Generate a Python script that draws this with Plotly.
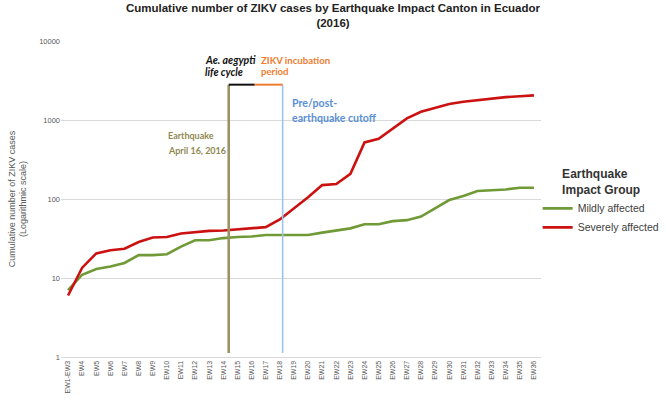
import math
import plotly.graph_objects as go

weeks = ["EW1-EW3"] + [f"EW{i}" for i in range(4, 37)]
mildly = [7, 11, 13, 14, 15.5, 19.5, 19.5, 20, 25, 30, 30, 32, 33, 33.5, 35, 35, 35, 35,
          37.5, 40, 42.5, 48, 48, 52.5, 54, 60, 76, 97, 109, 126, 129, 132, 139, 139]
severely = [6, 13.5, 20.5, 22.5, 23.5, 28.5, 32.5, 33, 36.5, 38, 39.5, 40, 41, 42.5, 44, 55,
            75, 105, 150, 155, 208, 520, 580, 790, 1050, 1270, 1430, 1590, 1700, 1790,
            1880, 1950, 2000, 2050]
series_names = ["Mildly affected", "Severely affected"]
series_colors = ["#6F9A36", "#CC1111"]

# event markers (category-index positions) and bracket height
quake_pos = 11.38
bracket_mid = 13.22
cutoff_pos = 15.2
bracket_top = 2800
line_bottom = 1.12

x = list(range(len(weeks)))
fig = go.Figure()
for name, vals, col in zip(series_names, [mildly, severely], series_colors):
    fig.add_trace(go.Scatter(x=x, y=vals, mode="lines", name=name,
                             line=dict(color=col, width=2.6)))

shapes = [
    dict(type="line", xref="x", yref="y", x0=quake_pos, x1=quake_pos,
         y0=line_bottom, y1=bracket_top, line=dict(color="#9A9464", width=2.6)),
    dict(type="line", xref="x", yref="y", x0=cutoff_pos, x1=cutoff_pos,
         y0=line_bottom, y1=bracket_top, line=dict(color="#9DC3E6", width=1.6)),
    dict(type="line", xref="x", yref="y", x0=quake_pos, x1=bracket_mid,
         y0=bracket_top, y1=bracket_top, line=dict(color="#111111", width=2)),
    dict(type="line", xref="x", yref="y", x0=bracket_mid, x1=cutoff_pos,
         y0=bracket_top, y1=bracket_top, line=dict(color="#ED7D31", width=2)),
]

afont = "Lato, Carlito, 'Open Sans', sans-serif"


def label(xi, ylog, text, size, color):
    return dict(x=xi, y=ylog, xref="x", yref="y", xanchor="left", yanchor="middle",
                text=text, showarrow=False, align="left", borderpad=0,
                font=dict(family=afont, size=size, color=color))


annotations = [
    label(9.62, 3.759, "<b><i>Ae. aegypti</i></b>", 10.5, "#111111"),
    label(9.62, 3.608, "<b><i>life cycle</i></b>", 10.5, "#111111"),
    label(13.6, 3.759, "<b>ZIKV incubation</b>", 9.6, "#ED7D31"),
    label(13.6, 3.608, "<b>period</b>", 9.6, "#ED7D31"),
    label(15.8, 3.215, "<b>Pre/post-</b>", 10.6, "#5B8FD6"),
    label(15.8, 3.025, "<b>earthquake cutoff</b>", 10.6, "#5B8FD6"),
    label(7.0, 2.81, "<b>Earthquake</b>", 9, "#8E8852"),
    label(7.0, 2.62, "<b>April 16, 2016</b>", 9, "#8E8852"),
]

fig.update_layout(
    width=666, height=403,
    margin=dict(l=61, r=125, t=41, b=46, autoexpand=False),
    paper_bgcolor="white", plot_bgcolor="white",
    title=dict(text="<b>Cumulative number of ZIKV cases by Earthquake Impact Canton in Ecuador<br>(2016)</b>",
               x=0.5, xanchor="center", yref="container", y=0.97, yanchor="middle",
               font=dict(family="Liberation Sans, Arial, sans-serif", size=11.5, color="#222222")),
    font=dict(family="Liberation Sans, Arial, sans-serif", color="#595959"),
    xaxis=dict(tickmode="array", tickvals=x, ticktext=weeks, tickangle=-90,
               range=[-0.5, len(weeks) - 0.5], showgrid=False, zeroline=False,
               showline=True, linecolor="#D9D9D9", linewidth=1, ticks="",
               automargin=False, tickfont=dict(size=7, color="#595959")),
    yaxis=dict(type="log", range=[0, 4], tickvals=[1, 10, 100, 1000, 10000],
               ticktext=["1", "10", "100", "1000", "10000"],
               showgrid=True, gridcolor="#D9D9D9", gridwidth=1, zeroline=False,
               showline=False, ticks="", automargin=False,
               tickfont=dict(size=7.5, color="#595959"),
               title=dict(text="Cumulative number of ZIKV cases<br>(Logarithmic scale)",
                          font=dict(size=9, color="#595959"), standoff=10)),
    legend=dict(x=0.993, xanchor="left", y=0.615, yanchor="top",
                title=dict(text="<b>Earthquake<br>Impact Group</b>", side="top center",
                           font=dict(size=12, color="#333333")),
                font=dict(size=10.5, color="#404040"), bgcolor="rgba(0,0,0,0)",
                itemwidth=30),
    shapes=shapes, annotations=annotations,
)

fig.write_html("out.html", config={"displayModeBar": False},
               post_script="document.body.style.margin='0px';")
